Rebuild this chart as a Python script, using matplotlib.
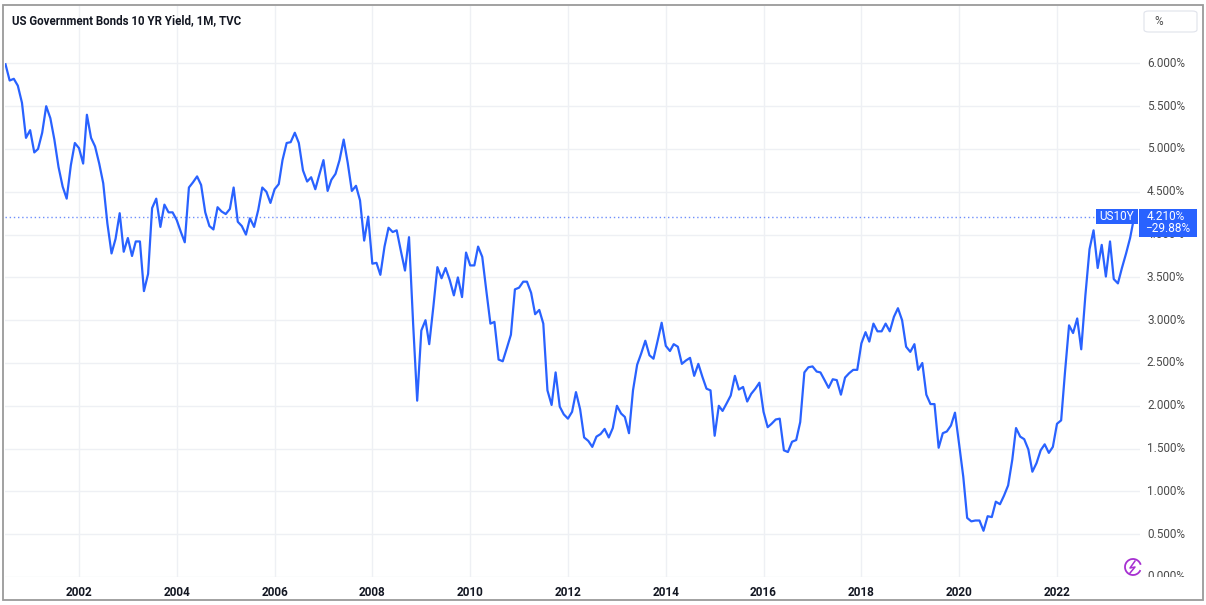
import pandas as pd
import numpy as np
import matplotlib.pyplot as plt
import matplotlib.dates as mdates
from matplotlib.patches import Rectangle, FancyBboxPatch, Arc

plt.switch_backend('Agg')
plt.rcParams['font.family'] = ['Roboto', 'DejaVu Sans']

# monthly closes, Jul 2000 .. Aug 2023
start_month = '2000-07-01'
yields = [
    5.99, 5.80, 5.82, 5.74, 5.54, 5.13,
    5.22, 4.96, 5.00, 5.19, 5.50, 5.36, 5.11, 4.79, 4.56, 4.42, 4.81, 5.07,
    5.01, 4.83, 5.40, 5.13, 5.03, 4.83, 4.60, 4.13, 3.78, 3.95, 4.25, 3.80,
    3.96, 3.75, 3.92, 3.92, 3.34, 3.54, 4.31, 4.42, 4.09, 4.35, 4.26, 4.26,
    4.17, 4.03, 3.91, 4.55, 4.61, 4.68, 4.58, 4.26, 4.10, 4.06, 4.32, 4.27,
    4.24, 4.30, 4.55, 4.15, 4.10, 4.00, 4.19, 4.09, 4.29, 4.55, 4.50, 4.37,
    4.53, 4.59, 4.87, 5.07, 5.08, 5.19, 5.07, 4.75, 4.62, 4.67, 4.53, 4.70,
    4.87, 4.51, 4.64, 4.71, 4.87, 5.11, 4.84, 4.51, 4.57, 4.40, 3.93, 4.21,
    3.66, 3.67, 3.53, 3.86, 4.08, 4.03, 4.05, 3.81, 3.58, 3.97, 2.95, 2.06,
    2.88, 3.00, 2.72, 3.16, 3.62, 3.49, 3.61, 3.47, 3.29, 3.50, 3.27, 3.79,
    3.64, 3.64, 3.86, 3.74, 3.35, 2.96, 2.98, 2.54, 2.52, 2.67, 2.83, 3.36,
    3.38, 3.45, 3.45, 3.32, 3.07, 3.12, 2.96, 2.18, 2.01, 2.39, 1.99, 1.90,
    1.85, 1.93, 2.16, 1.96, 1.63, 1.59, 1.52, 1.64, 1.67, 1.73, 1.63, 1.74,
    2.00, 1.91, 1.87, 1.68, 2.18, 2.48, 2.61, 2.76, 2.59, 2.55, 2.76, 2.97,
    2.70, 2.64, 2.72, 2.69, 2.49, 2.53, 2.56, 2.35, 2.49, 2.34, 2.20, 2.18,
    1.65, 2.00, 1.94, 2.03, 2.12, 2.35, 2.19, 2.22, 2.05, 2.14, 2.20, 2.27,
    1.93, 1.75, 1.79, 1.84, 1.85, 1.48, 1.46, 1.58, 1.60, 1.81, 2.39, 2.45,
    2.46, 2.40, 2.39, 2.30, 2.21, 2.31, 2.30, 2.13, 2.33, 2.38, 2.42, 2.42,
    2.73, 2.86, 2.75, 2.96, 2.87, 2.87, 2.96, 2.87, 3.04, 3.14, 3.00, 2.69,
    2.63, 2.72, 2.42, 2.50, 2.13, 2.02, 2.02, 1.51, 1.68, 1.70, 1.77, 1.92,
    1.55, 1.17, 0.69, 0.65, 0.66, 0.66, 0.54, 0.71, 0.70, 0.88, 0.85, 0.95,
    1.07, 1.37, 1.74, 1.64, 1.61, 1.49, 1.23, 1.33, 1.48, 1.55, 1.45, 1.52,
    1.79, 1.83, 2.38, 2.94, 2.85, 3.02, 2.66, 3.29, 3.83, 4.05, 3.61, 3.88,
    3.51, 3.92, 3.48, 3.43, 3.61, 3.78, 3.96, 4.21,
]
year_ticks = list(range(2002, 2023, 2))
price_ticks = [0.0, 0.5, 1.0, 1.5, 2.0, 2.5, 3.0, 3.5, 4.0, 4.5, 5.0, 5.5, 6.0]
last_value = 4.210
last_change = -29.88
symbol = 'US10Y'
title = 'US Government Bonds 10 YR Yield, 1M, TVC'

dates = pd.date_range(start_month, periods=len(yields), freq='MS')

W, H = 1206, 605
blue = '#2962ff'
grid_col = '#eef0f4'
text_col = '#131722'

fig = plt.figure(figsize=(W / 100, H / 100), dpi=100)
fig.patch.set_facecolor('white')


def fx(x):
    return x / W


def fy(y):
    return 1 - y / H


# main pane
ax = fig.add_axes([fx(5), fy(577), fx(1140) - fx(5), fy(6) - fy(577)])
ax.plot(dates, yields, color=blue, lw=1.6, solid_joinstyle='round', zorder=3)

ymax = (577 - 6) / 85.6
ax.set_ylim(0, ymax)
ref = mdates.date2num(pd.Timestamp('2002-01-01'))
ax.set_xlim(ref - 74 / 48.9 * 365.25, ref + 1061 / 48.9 * 365.25)

ax.set_yticks(price_ticks)
ax.set_yticklabels([])
ax.set_xticks([pd.Timestamp(f'{y}-01-01') for y in year_ticks])
ax.set_xticklabels([str(y) for y in year_ticks], fontsize=8.5, fontweight='bold', color=text_col)
ax.tick_params(axis='both', length=0)
ax.tick_params(axis='x', pad=6.5)
ax.grid(True, color=grid_col, lw=1, zorder=0)
for s in ax.spines.values():
    s.set_visible(False)

# last value dotted line
ax.axhline(last_value, xmin=0, xmax=(1096 - 5) / (1140 - 5), color='#6f8ffc', lw=1.0,
           ls=(0, (1, 2)), zorder=2)

# price scale
ax2 = fig.add_axes([fx(1140), fy(577), fx(1203) - fx(1140), fy(6) - fy(577)])
ax2.set_ylim(0, ymax)
ax2.set_xlim(0, 63)
ax2.axis('off')
for p in price_ticks:
    ax2.text(45, p, f'{p:.3f}%', ha='right', va='center', fontsize=8.5, color='#4a4a4a', clip_on=True)

# title
fig.text(fx(12), fy(21), title, ha='left', va='center', fontsize=8.3, fontweight='bold', color=text_col)

# % box
fig.add_artist(FancyBboxPatch((fx(1144), fy(32)), fx(1197) - fx(1144), fy(11) - fy(32),
                              boxstyle='round,pad=0,rounding_size=0.004', transform=fig.transFigure,
                              facecolor='white', edgecolor='#e0e3eb', lw=0.8))
fig.text(fx(1154), fy(21.5), '%', ha='left', va='center', fontsize=8.5, color='#4a4a4a')

# last value labels
fig.add_artist(Rectangle((fx(1096), fy(224)), fx(1138) - fx(1096), fy(209) - fy(224),
                         transform=fig.transFigure, facecolor=blue, edgecolor='none'))
fig.text(fx(1117), fy(216.5), symbol, ha='center', va='center', fontsize=8.5, color='white')
fig.add_artist(Rectangle((fx(1139), fy(237)), fx(1197) - fx(1139), fy(209) - fy(237),
                         transform=fig.transFigure, facecolor=blue, edgecolor='none'))
fig.text(fx(1147), fy(216.5), f'{last_value:.3f}%', ha='left', va='center', fontsize=8.5, color='white')
fig.text(fx(1145), fy(229), f'\u2212{abs(last_change):.2f}%', ha='left', va='center', fontsize=8.5, color='white')

# small logo
fig.add_artist(Arc((fx(1133), fy(567)), fx(16), 16 / H, theta1=30, theta2=320,
                   transform=fig.transFigure, color='#a62fd1', lw=1.3))
fig.add_artist(plt.Line2D([fx(1135), fx(1130), fx(1135), fx(1130)],
                          [fy(561), fy(568), fy(567), fy(573)],
                          transform=fig.transFigure, color='#a62fd1', lw=1.1))

# outer frame
fig.add_artist(Rectangle((fx(3.5), fy(599.5)), fx(1203) - fx(3.5), fy(5.5) - fy(599.5),
                         transform=fig.transFigure, facecolor='none', edgecolor='#9a9a9a', lw=1.3))

fig.savefig('out.png', dpi=100, facecolor='white')
